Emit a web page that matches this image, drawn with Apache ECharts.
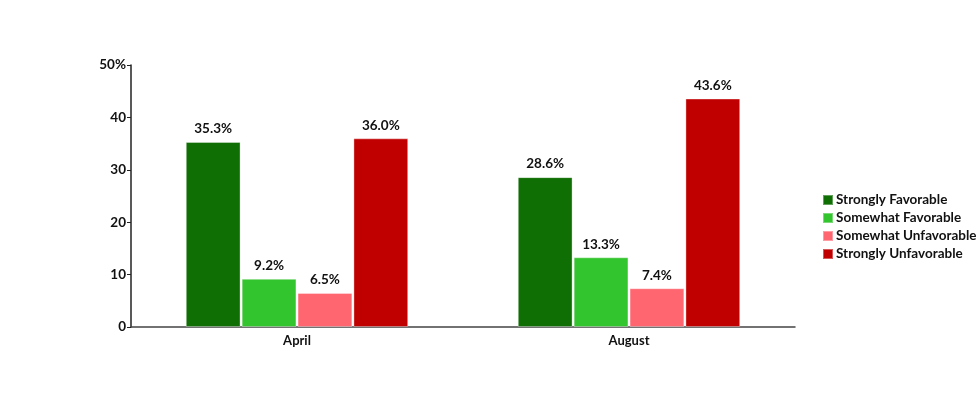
<!DOCTYPE html>
<html><head><meta charset="utf-8">
<script src="https://cdn.jsdelivr.net/npm/echarts@6/dist/echarts.min.js"></script>
<style>html,body{margin:0;padding:0;background:#fff}#c{width:980px;height:405px}</style>
</head><body><div id="c"></div>
<script>
const categories = ['April', 'August'];
const seriesNames = ['Strongly Favorable', 'Somewhat Favorable', 'Somewhat Unfavorable', 'Strongly Unfavorable'];
const stronglyFavorable = [35.3, 28.6];
const somewhatFavorable = [9.2, 13.3];
const somewhatUnfavorable = [6.5, 7.4];
const stronglyUnfavorable = [36.0, 43.6];
const colors = ['#0f6e04', '#33c52d', '#ff6670', '#c00000'];
const yTicks = [0, 10, 20, 30, 40, 50];

const values = [stronglyFavorable, somewhatFavorable, somewhatUnfavorable, stronglyUnfavorable];
const font = 'Lato, "Open Sans", sans-serif';
const chart = echarts.init(document.getElementById('c'));
chart.setOption({
  animation: false,
  color: colors,
  grid: {left: 131, right: 185, top: 65, bottom: 78},
  legend: {
    orient: 'vertical', left: 822, top: 193, padding: 0, itemWidth: 10, itemHeight: 10, itemGap: 4,
    icon: 'rect',
    textStyle: {fontFamily: font, fontWeight: 'bold', fontSize: 13.5, color: '#111', padding: [0, 0, 0, -2]},
    data: seriesNames
  },
  xAxis: {
    type: 'category', data: categories,
    axisLine: {lineStyle: {color: '#444', width: 1.5}},
    axisTick: {show: false},
    axisLabel: {fontFamily: font, fontWeight: 'bold', fontSize: 13, color: '#111', margin: 7}
  },
  yAxis: {
    type: 'value', min: 0, max: 50, interval: 10,
    splitLine: {show: false},
    axisLine: {show: true, lineStyle: {color: '#222', width: 1.5}},
    axisTick: {show: true, length: 4, lineStyle: {color: '#222'}},
    axisLabel: {fontFamily: font, fontWeight: 'bold', fontSize: 13.5, color: '#111', margin: 5,
      formatter: v => v === yTicks[yTicks.length - 1] ? v + '%' : String(v)}
  },
  series: seriesNames.map((n, i) => ({
    name: n, type: 'bar', data: values[i],
    barGap: '2%', barCategoryGap: '33%',
    itemStyle: {color: colors[i], borderColor: 'rgba(255,255,255,0.35)', borderWidth: 1},
    label: {show: true, position: 'top', distance: 6, formatter: p => p.value.toFixed(1) + '%',
      fontFamily: font, fontWeight: 'bold', fontSize: 13.5, color: '#111'}
  }))
});
</script></body></html>
